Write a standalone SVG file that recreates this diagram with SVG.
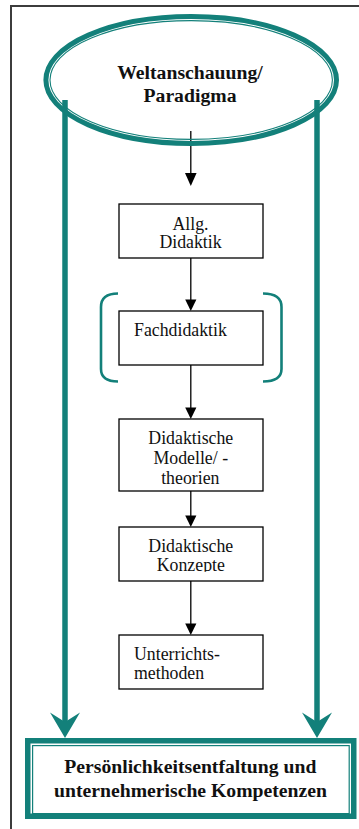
<svg xmlns="http://www.w3.org/2000/svg" width="359" height="829" viewBox="0 0 359 829">
  <style>
    .frame { fill: none; stroke: #3c3c3c; stroke-width: 2; }
    .teal { stroke: #13807a; fill: none; }
    .box { fill: #ffffff; stroke: #000000; stroke-width: 1.3; }
    .lbl { font-family: "Liberation Serif", "Times New Roman", serif; font-size: 17.8px; fill: #111111; }
    .bold { font-family: "Liberation Serif", "Times New Roman", serif; font-size: 19.7px; font-weight: bold; fill: #111111; }
    .mid { text-anchor: middle; }
    .edge { stroke: #000000; stroke-width: 1.3; fill: none; }
    .head { fill: #000000; }
    .tealhead { fill: #13807a; }
  </style>
  <defs>
    <clipPath id="clipModelle"><rect x="119" y="419" width="144" height="65.5"/></clipPath>
    <clipPath id="clipKonzepte"><rect x="119" y="527" width="144" height="44.8"/></clipPath>
  </defs>

  <rect width="359" height="829" fill="#ffffff"/>

  <!-- outer frame (open on the right) -->
  <path class="frame" d="M359,6 L11,6 L11,829"/>

  <!-- connectors -->
  <g id="connectors">
    <!-- side paths from the worldview down to the outcome -->
    <line class="teal" x1="65" y1="100" x2="65" y2="722" stroke-width="5.5"/>
    <path class="tealhead" d="M65,738 L50,712.5 L65,722 L80,712.5 Z"/>
    <line class="teal" x1="317" y1="100" x2="317" y2="722" stroke-width="5.5"/>
    <path class="tealhead" d="M317,738 L302,712.5 L317,722 L332,712.5 Z"/>

    <!-- central chain -->
    <line class="edge" x1="190.8" y1="131" x2="190.8" y2="175"/>
    <path class="head" d="M190.8,186 L185,173 L196.6,173 Z"/>
    <line class="edge" x1="190.8" y1="258" x2="190.8" y2="301"/>
    <path class="head" d="M190.8,311 L185.2,299.5 L196.4,299.5 Z"/>
    <line class="edge" x1="190.8" y1="365" x2="190.8" y2="408"/>
    <path class="head" d="M190.8,419 L185.2,407.5 L196.4,407.5 Z"/>
    <line class="edge" x1="190.8" y1="491" x2="190.8" y2="516"/>
    <path class="head" d="M190.8,527 L185.2,515.5 L196.4,515.5 Z"/>
    <line class="edge" x1="190.8" y1="581" x2="190.8" y2="624"/>
    <path class="head" d="M190.8,635 L185.2,623.5 L196.4,623.5 Z"/>
  </g>

  <!-- worldview ellipse -->
  <g id="weltanschauung">
    <ellipse cx="191.2" cy="80" rx="145.3" ry="63.5" fill="#ffffff" class="teal" stroke-width="5"/>
    <ellipse cx="191.2" cy="80" rx="141.2" ry="59.4" class="teal" stroke-width="1.1"/>
    <text class="bold mid" x="190" y="79">Weltanschauung/</text>
    <text class="bold mid" x="190" y="102">Paradigma</text>
  </g>

  <g id="allg-didaktik">
    <rect class="box" x="119" y="204" width="144" height="54"/>
    <text class="lbl mid" x="190.5" y="229.5">Allg.</text>
    <text class="lbl mid" x="190.5" y="248">Didaktik</text>
  </g>

  <g id="fachdidaktik">
    <path class="teal" stroke-width="2.6" d="M118,293.5 C106,293.5 101,298 101,307 L101,369 C101,377 106,381.5 118,381.5"/>
    <path class="teal" stroke-width="2.6" d="M263,293.5 C275,293.5 281.5,298 281.5,307 L281.5,369 C281.5,377 275,381.5 263,381.5"/>
    <rect class="box" x="119" y="311" width="144" height="54"/>
    <text class="lbl" x="134" y="336">Fachdidaktik</text>
  </g>

  <g id="didaktische-modelle">
    <rect class="box" x="119" y="419" width="144" height="72"/>
    <g clip-path="url(#clipModelle)">
      <text class="lbl mid" x="190.8" y="444.3">Didaktische</text>
      <text class="lbl mid" x="190.8" y="464.3">Modelle/ -</text>
      <text class="lbl mid" x="190.3" y="484.3">theorien</text>
    </g>
  </g>

  <g id="didaktische-konzepte">
    <rect class="box" x="119" y="527" width="144" height="54"/>
    <g clip-path="url(#clipKonzepte)">
      <text class="lbl mid" x="190.8" y="551.7">Didaktische</text>
      <text class="lbl mid" x="190.8" y="571">Konzepte</text>
    </g>
  </g>

  <g id="unterrichtsmethoden">
    <rect class="box" x="119" y="635" width="144" height="54"/>
    <text class="lbl" x="134" y="660">Unterrichts-</text>
    <text class="lbl" x="134" y="679.3">methoden</text>
  </g>

  <!-- outcome box with double teal border -->
  <g id="kompetenzen">
    <rect x="27.75" y="740.75" width="326" height="75.5" fill="#ffffff" class="teal" stroke-width="5.5"/>
    <rect x="32.6" y="745.6" width="316.6" height="68" class="teal" stroke-width="1.2"/>
    <text class="bold mid" x="190.3" y="773">Persönlichkeitsentfaltung und</text>
    <text class="bold mid" x="190.5" y="797">unternehmerische Kompetenzen</text>
  </g>
</svg>
